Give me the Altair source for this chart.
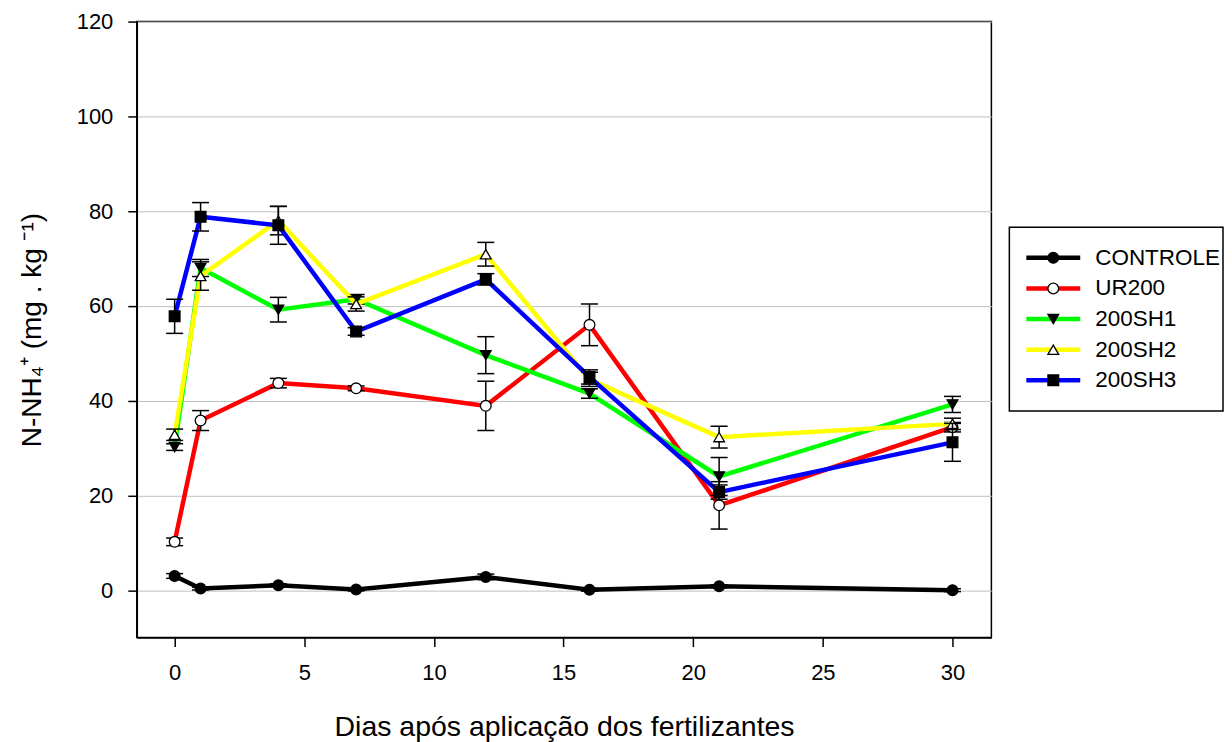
import altair as alt
import pandas as pd

days = [0, 1, 4, 7, 12, 16, 21, 30]
series = ["CONTROLE", "UR200", "200SH1", "200SH2", "200SH3"]

controle = [3.0, 0.35, 1.05, 0.15, 2.8, 0.1, 0.85, 0.0]
controle_err = [0.5, 0.3, 0.3, 0.3, 0.6, 0.3, 0.3, 0.3]
ur200 = [10.2, 35.8, 43.7, 42.6, 38.9, 56.0, 17.9, 34.4]
ur200_err = [0.8, 2.1, 1.0, 0.5, 5.2, 4.4, 5.0, 1.0]
sh1 = [30.2, 68.0, 59.2, 61.4, 49.6, 41.5, 24.0, 39.2]
sh1_err = [0.7, 1.8, 2.6, 1.0, 3.9, 1.0, 4.0, 1.7]
sh2 = [32.8, 66.3, 78.0, 60.4, 70.9, 44.5, 32.3, 35.1]
sh2_err = [1.2, 3.0, 3.0, 1.5, 2.5, 1.5, 2.3, 1.2]
sh3 = [57.8, 78.8, 77.0, 54.6, 65.6, 45.0, 20.7, 31.2]
sh3_err = [3.6, 3.0, 4.0, 0.8, 1.2, 1.5, 1.5, 4.0]

x_ticks = [0, 5, 10, 15, 20, 25, 30]
y_ticks = [0, 20, 40, 60, 80, 100, 120]

line_colors = ["#000000", "#ff0000", "#00ff00", "#ffff00", "#0000ff"]
marker_shapes = ["circle", "circle", "triangle-down", "triangle-up", "square"]
marker_fills = ["#000000", "#ffffff", "#000000", "#ffffff", "#000000"]
marker_sizes = [115, 115, 195, 195, 135]

FONT = "Liberation Sans"

values = [controle, ur200, sh1, sh2, sh3]
errors = [controle_err, ur200_err, sh1_err, sh2_err, sh3_err]

rows = []
for name, vals, errs in zip(series, values, errors):
    for d, v, e in zip(days, vals, errs):
        rows.append({"serie": name, "dia": d, "valor": v, "lo": v - e, "hi": v + e})
df = pd.DataFrame(rows)

xscale = alt.Scale(domain=[-1.46, 31.5], nice=False, zero=False)
yscale = alt.Scale(domain=[-10, 120], nice=False, zero=False)

x_enc = alt.X(
    "dia:Q", scale=xscale,
    axis=alt.Axis(values=x_ticks, title="Dias após aplicação dos fertilizantes",
                  grid=False, tickSize=9, labelPadding=16, titlePadding=29,
                  labelFontSize=22, titleFontSize=28.5),
)
y_enc = alt.Y(
    "valor:Q", scale=yscale,
    axis=alt.Axis(values=y_ticks, title="N-NH₄⁺ (mg . kg ⁻¹)", grid=True,
                  tickSize=9, labelPadding=15, titlePadding=30,
                  labelFontSize=22, titleFontSize=28),
)
color_scale = alt.Scale(domain=series, range=line_colors)
shape_scale = alt.Scale(domain=series, range=marker_shapes)
fill_scale = alt.Scale(domain=series, range=marker_fills)
size_scale = alt.Scale(domain=series, range=marker_sizes)

base = alt.Chart(df)
layers = []
for name in series:
    sub = base.transform_filter(alt.datum.serie == name)
    line = sub.mark_line(strokeWidth=4.5).encode(
        x=x_enc, y=y_enc,
        color=alt.Color("serie:N", scale=color_scale, legend=None),
    )
    err = sub.mark_rule(color="black", strokeWidth=1.5).encode(
        x="dia:Q", y="lo:Q", y2="hi:Q"
    )
    caps = sub.transform_fold(["lo", "hi"], as_=["k", "v"]).mark_tick(
        orient="horizontal", size=17, thickness=1.5, color="black", opacity=1
    ).encode(x="dia:Q", y="v:Q")
    pts = sub.mark_point(filled=True, stroke="black", strokeWidth=1.3, opacity=1).encode(
        x="dia:Q", y="valor:Q",
        shape=alt.Shape("serie:N", scale=shape_scale, legend=None),
        fill=alt.Fill("serie:N", scale=fill_scale, legend=None),
        size=alt.Size("serie:N", scale=size_scale, legend=None),
    )
    layers += [line, err, caps, pts]

main = alt.layer(*layers).properties(width=856, height=617)

# legend panel
leg_df = pd.DataFrame({"serie": series})
ly = alt.Y("serie:N", scale=alt.Scale(domain=series, type="point", padding=1.03), axis=None)
leg_line = alt.Chart(leg_df).mark_rule(strokeWidth=4.5).encode(
    x=alt.value(17), x2=alt.value(71), y=ly,
    color=alt.Color("serie:N", scale=color_scale, legend=None),
)
leg_pts = alt.Chart(leg_df).mark_point(filled=True, stroke="black", strokeWidth=1.3, opacity=1).encode(
    x=alt.value(44), y=ly,
    shape=alt.Shape("serie:N", scale=shape_scale, legend=None),
    fill=alt.Fill("serie:N", scale=fill_scale, legend=None),
    size=alt.Size("serie:N", scale=size_scale, legend=None),
)
leg_txt = alt.Chart(leg_df).mark_text(align="left", baseline="middle", fontSize=22.5, font=FONT, color="black").encode(
    x=alt.value(86), y=ly, text="serie:N"
)
legend_panel = alt.layer(leg_line, leg_pts, leg_txt).properties(width=214, height=184)

spacer = alt.Chart(pd.DataFrame({"a": [0]})).mark_point(opacity=0).encode(
    x=alt.value(0), y=alt.value(0)
).properties(width=214, height=206, view=alt.ViewBackground(stroke=None))

legend_col = alt.vconcat(spacer, legend_panel, spacing=0, bounds="flush")

chart = alt.hconcat(main, legend_col, spacing=18, bounds="flush").properties(
    padding={"left": 9, "top": 1, "right": 0, "bottom": 0},
    background="white",
).configure_view(
    stroke="black", strokeWidth=1.5
).configure_axis(
    labelFont=FONT, titleFont=FONT, labelColor="black", titleColor="black",
    titleFontWeight="normal", tickColor="black", domainColor="black",
    gridColor="#c0c0c0", gridWidth=1, domainWidth=1.5, tickWidth=1.5,
).resolve_scale(shape="shared", fill="shared", color="shared", size="shared")

chart.save("out.html", embed_options={"renderer": "svg", "actions": False})
